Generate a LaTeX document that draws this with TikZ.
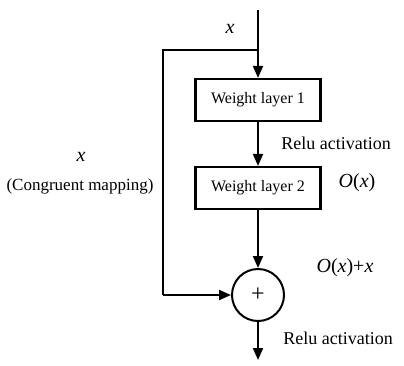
\documentclass[tikz,border=0pt]{standalone}
\usepackage{fontspec}
\setmainfont{Liberation Serif}
\usetikzlibrary{arrows.meta}
\begin{document}
\begin{tikzpicture}[x=1pt,y=-1pt,
  line/.style={line width=2pt},
  arr/.style={line width=2pt,-{Triangle[length=12pt,width=10pt]}},
  layer/.style={draw,line width=2.2pt,minimum width=125pt,minimum height=42pt,inner sep=0pt,font=\fontsize{16}{18}\selectfont},
  sumnode/.style={draw,circle,line width=2pt,minimum size=52pt,inner sep=0pt,font=\fontsize{24}{26}\selectfont},
  lbl/.style={font=\fontsize{18}{20}\selectfont,inner sep=0pt},
  mth/.style={font=\fontsize{20}{22}\selectfont,inner sep=0pt}]
\useasboundingbox (0,0) rectangle (404,365);
\coordinate (top) at (258,10);
\coordinate (br) at (258,50);
\coordinate (lt) at (163,50);
\coordinate (lb) at (163,295);
\coordinate (bot) at (258,360);
\node[layer] (w1) at (258,100) {Weight layer 1};
\node[layer] (w2) at (258,188) {Weight layer 2};
\node[sumnode] (sum) at (258,295) {+};
\draw[line] (top) -- (br);
\draw[arr] (br) -- (w1.north);
\draw[arr] (w1.south) -- (w2.north);
\draw[arr] (w2.south) -- (sum.north);
\draw[arr] (sum.south) -- (bot);
\draw[line] (br) -- (lt) -- (lb);
\draw[arr] (lb) -- (sum.west);
\node[mth] (xt) at (230,29) {\itshape x};
\node[lbl] (r1) at (336,143) {Relu activation};
\node[mth] (ox) at (357,183) {\itshape O\/\upshape(\itshape x\/\upshape)};
\node[mth] (xl) at (81,157) {\itshape x};
\node[font=\fontsize{17}{19}\selectfont,inner sep=0pt] (cm) at (80,186) {(Congruent mapping)};
\node[mth] (oxx) at (345,268) {\itshape O\/\upshape(\itshape x\/\upshape)+\itshape x};
\node[lbl] (r2) at (338,338) {Relu activation};
\end{tikzpicture}
\end{document}
